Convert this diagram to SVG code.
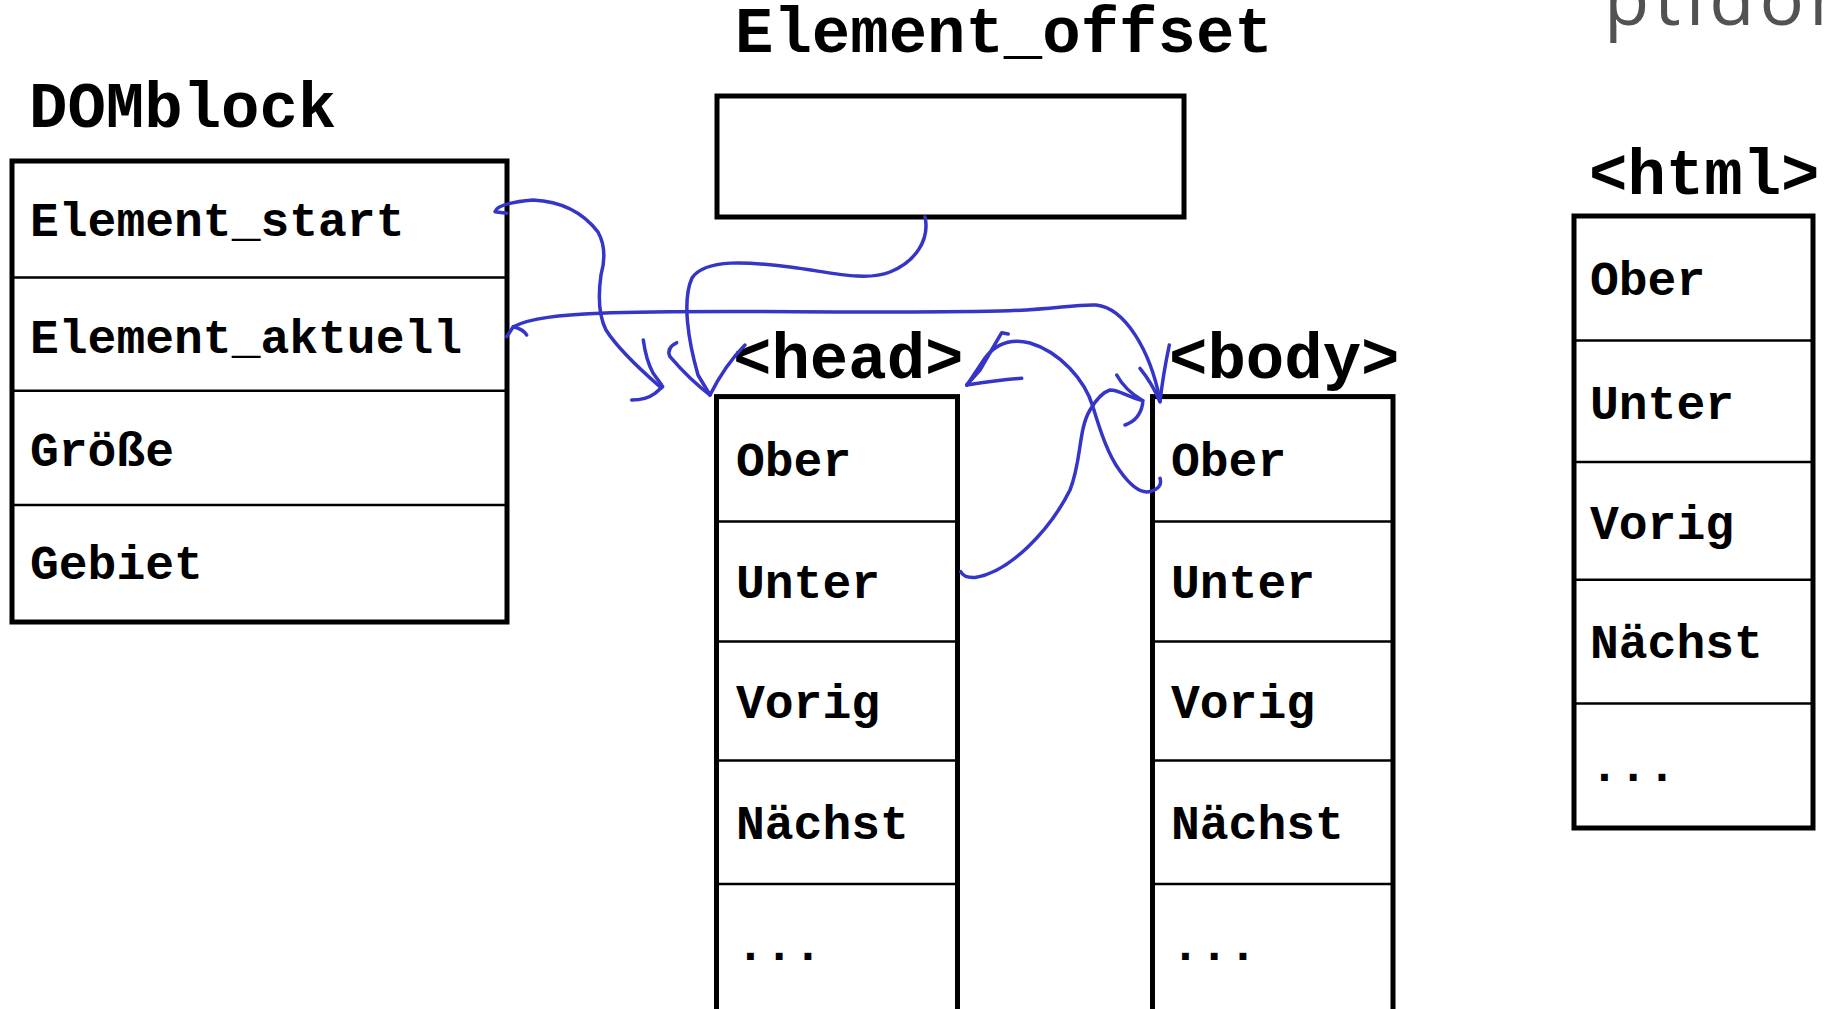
<svg xmlns="http://www.w3.org/2000/svg" width="1829" height="1009" viewBox="0 0 1829 1009">
<style>
.bg{fill:#ffffff}
.box{fill:none;stroke:#000;stroke-width:5}
.div{stroke:#000;stroke-width:2.5}
.title{font-family:"Liberation Mono","Courier New",monospace;font-weight:bold;font-size:64px;fill:#000}
.lbl{font-family:"Liberation Mono","Courier New",monospace;font-weight:bold;font-size:48px;fill:#000}
.pen{fill:none;stroke:#3535c8;stroke-width:3.5;stroke-linecap:round;stroke-linejoin:round}
.grey{font-family:"Open Sans","Noto Sans",sans-serif;font-size:74px;letter-spacing:5px;fill:#525252}
</style>
<rect class="bg" x="0" y="0" width="1829" height="1009"/>
<text class="grey" x="1604" y="25">ptldon</text>

<g id="DOMblock">
<text class="title" x="29" y="127">DOMblock</text>
<rect class="box" x="12" y="161" width="495" height="461"/>
<line class="div" x1="12" y1="277.6" x2="507" y2="277.6"/>
<line class="div" x1="12" y1="390.8" x2="507" y2="390.8"/>
<line class="div" x1="12" y1="505.1" x2="507" y2="505.1"/>
<text class="lbl" x="30" y="236">Element_start</text>
<text class="lbl" x="30" y="353">Element_aktuell</text>
<text class="lbl" x="30" y="466">Größe</text>
<text class="lbl" x="30" y="579">Gebiet</text>
</g>

<g id="Element_offset">
<text class="title" x="735" y="52">Element_offset</text>
<rect class="box" x="717" y="96" width="467" height="121"/>
</g>

<g id="head">
<text class="title" x="733" y="378">&lt;head&gt;</text>
<rect class="box" x="716.5" y="396.6" width="241" height="630"/>
<line class="div" x1="716.5" y1="521.4" x2="957.5" y2="521.4"/>
<line class="div" x1="716.5" y1="641.6" x2="957.5" y2="641.6"/>
<line class="div" x1="716.5" y1="760.5" x2="957.5" y2="760.5"/>
<line class="div" x1="716.5" y1="884" x2="957.5" y2="884"/>
<text class="lbl" x="736" y="476">Ober</text>
<text class="lbl" x="736" y="598">Unter</text>
<text class="lbl" x="736" y="718">Vorig</text>
<text class="lbl" x="736" y="839">Nächst</text>
<text class="lbl" x="736" y="960">...</text>
</g>

<g id="body">
<text class="title" x="1169" y="378">&lt;body&gt;</text>
<rect class="box" x="1152.5" y="396.6" width="240.5" height="630"/>
<line class="div" x1="1152.5" y1="521.4" x2="1393" y2="521.4"/>
<line class="div" x1="1152.5" y1="641.6" x2="1393" y2="641.6"/>
<line class="div" x1="1152.5" y1="760.5" x2="1393" y2="760.5"/>
<line class="div" x1="1152.5" y1="884" x2="1393" y2="884"/>
<text class="lbl" x="1171" y="476">Ober</text>
<text class="lbl" x="1171" y="598">Unter</text>
<text class="lbl" x="1171" y="718">Vorig</text>
<text class="lbl" x="1171" y="839">Nächst</text>
<text class="lbl" x="1171" y="960">...</text>
</g>

<g id="html">
<text class="title" x="1589" y="194">&lt;html&gt;</text>
<rect class="box" x="1574" y="216" width="239" height="612"/>
<line class="div" x1="1574" y1="340.6" x2="1813" y2="340.6"/>
<line class="div" x1="1574" y1="461.9" x2="1813" y2="461.9"/>
<line class="div" x1="1574" y1="579.7" x2="1813" y2="579.7"/>
<line class="div" x1="1574" y1="703.4" x2="1813" y2="703.4"/>
<text class="lbl" x="1590" y="295">Ober</text>
<text class="lbl" x="1590" y="419">Unter</text>
<text class="lbl" x="1590" y="539">Vorig</text>
<text class="lbl" x="1590" y="658">Nächst</text>
<text class="lbl" x="1590" y="781">...</text>
</g>

<g id="connectors">
<!-- Element_start -> head -->
<path class="pen" d="M506.7,213.3 L495,211.7 Q498,203 533,200 Q575,202 598,232 Q608,250 601,275 Q596,310 606,330 Q620,352 660,386.7"/>
<path class="pen" d="M643.3,340 Q646,360 653,373 L661.7,385"/>
<path class="pen" d="M631.7,400 Q646,400 655,393.3 L662.7,386.7"/>
<!-- Element_offset -> head -->
<path class="pen" d="M925,217 C930,240 915,262 890,272 C865,282 830,272 790,267 C750,262 705,258 692,278 C682,300 688,340 698,375 L710,395"/>
<path class="pen" d="M676.7,342.7 Q666,348 670,356.7 Q690,380 710,395"/>
<path class="pen" d="M745,345 Q725,365 710,395"/>
<!-- Element_aktuell <-> body -->
<path class="pen" d="M506.7,336.7 L513.3,326.7 C530,318 560,315 600,313.3 C700,309 850,314 1000,311 C1050,310 1075,304 1096,305 C1125,308 1150,350 1160,400"/>
<path class="pen" d="M513.3,326.7 Q523,329 526.7,335"/>
<path class="pen" d="M1140,368.3 Q1152,383 1160,401.7"/>
<path class="pen" d="M1169.3,345 Q1163,375 1160,401.7"/>
<!-- head Unter -> body -->
<path class="pen" d="M960.7,571.7 Q964,578 975,577.5 C1010,572 1050,530 1070,490 C1082,460 1078,430 1090,410 Q1100,393 1110,390 C1120,390 1125,396 1143,400.7"/>
<path class="pen" d="M1116.7,375 Q1125,390 1141.7,400"/>
<path class="pen" d="M1125,425 Q1140,420 1142.7,403.3"/>
<!-- body Ober -> head -->
<path class="pen" d="M1160,478.3 Q1163,488 1150,491.5 C1140,494 1130,485 1120,471 C1108,455 1100,430 1093,407 C1085,380 1060,352 1030,343 C1010,338 995,345 985,358 L967,385"/>
<path class="pen" d="M1008.3,334 L1001.7,332.7 L980,370 L966.7,385"/>
<path class="pen" d="M1021.7,378.3 Q1000,380 966.7,385"/>
</g>
</svg>
